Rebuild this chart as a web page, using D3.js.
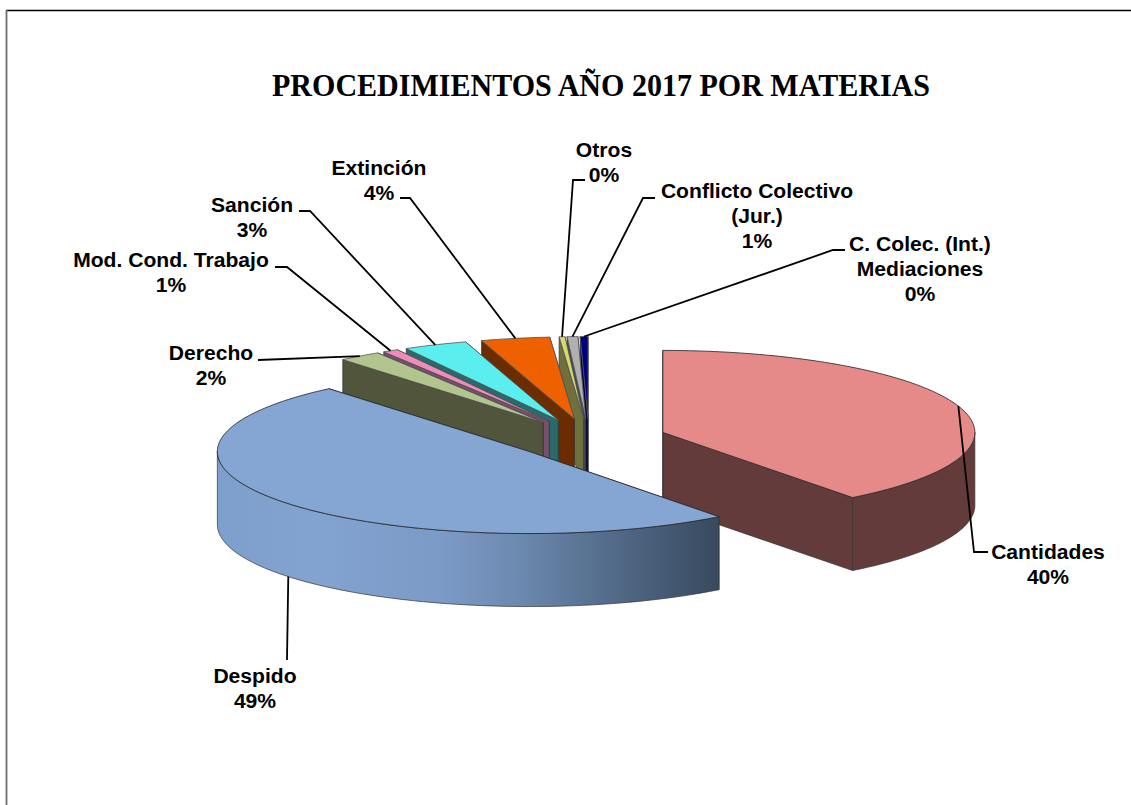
<!DOCTYPE html>
<html><head><meta charset="utf-8">
<script src="https://cdn.jsdelivr.net/npm/d3@7"></script>
<style>html,body{margin:0;padding:0;background:#fff}svg{display:block}</style>
</head><body><svg id="c" width="1131" height="805"></svg>
<script>
const titleText = "PROCEDIMIENTOS AÑO 2017 POR MATERIAS";
const categories = ["Cantidades","Despido","Derecho","Mod. Cond. Trabajo","Sanción","Extinción","Otros","Conflicto Colectivo (Jur.)","C. Colec. (Int.) Mediaciones"];
const labelLines = [["Cantidades"],["Despido"],["Derecho"],["Mod. Cond. Trabajo"],["Sanción"],["Extinción"],["Otros"],["Conflicto Colectivo","(Jur.)"],["C. Colec. (Int.)","Mediaciones"]];
const values = [39.6,49.3,2.2,0.8,3.3,3.55,0.3,0.55,0.4];
const explode = [0.25,0.245,0.25,0.25,0.25,0.25,0.25,0.25,0.25];
const topColors = ["#E58A88","#85A5D3","#B3C58E","#F08CBC","#5AEEEE","#EE6000","#D8D870","#B0B0B0","#000080"];
const wallColors = ["#633B3B","#7E9FCB","#50553C","#76506A","#2A6A6A","#6B2C00","#70703F","#4A4A4A","#000040"];

// layout, kept apart from the data
const cx=589, cy=439, R=312, RY=82, DEPTH=73, FONT=21.1, LINE=25;
const labelPos = [[1048,559],[255,683],[211,360],[171,267],[252,212],[379,175],[604,157],[757,198],[920,251]];
const elbows = [[[988,552],[974,552]],[[287,660],[287,660]],[[258,360],[258,360]],[[275,267],[287,267]],[[299,211],[310,211]],[[400,198],[410,198]],[[585,180],[573,180]],[[655,198],[643,198]],[[845,250],[833,250]]];
const anchorFrac = [.5,.496,.5,.5,.5,.5,.5,.5,.5];

const svg=d3.select("#c");
const xS=d3.scaleLinear().domain([-1,1]).range([-R,R]);
const yS=d3.scaleLinear().domain([-1,1]).range([-RY,RY]);
const pie=d3.pie().sort(null).value(d=>d)(values);
const slices=pie.map((p,i)=>{
  const mid=(p.startAngle+p.endAngle)/2;
  return {i,a0:p.startAngle,a1:p.endAngle,mid,
    ox:cx+xS(Math.sin(mid)*explode[i]), oy:cy+yS(-Math.cos(mid)*explode[i])};
});
const pt=(s,a,h=0)=>[s.ox+xS(Math.sin(a)),s.oy+yS(-Math.cos(a))+h];
const line=d3.line();
const defs=svg.append("defs");
const grad=defs.append("linearGradient").attr("id","despidoWall").attr("gradientUnits","userSpaceOnUse")
  .attr("x1",218).attr("x2",718).attr("y1",0).attr("y2",0);
[[0,"#7E9FCB"],[.2,"#83A3D0"],[.45,"#7B9AC6"],[.6,"#6C89AF"],[.8,"#516987"],[1,"#384A5E"]]
  .forEach(([o,c])=>grad.append("stop").attr("offset",o).attr("stop-color",c));

// frame
svg.append("line").attr("x1",6).attr("x2",1131).attr("y1",10.5).attr("y2",10.5).attr("stroke","#000").attr("stroke-width",1.6);
svg.append("line").attr("x1",6.5).attr("x2",6.5).attr("y1",10).attr("y2",805).attr("stroke","#6e6e6e").attr("stroke-width",1.8);

svg.append("text").attr("x",601).attr("y",96).attr("text-anchor","middle")
  .attr("font-family","'Liberation Serif',serif").attr("font-weight",700).attr("font-size",31.5)
  .attr("textLength",658).attr("lengthAdjust","spacingAndGlyphs").text(titleText);

const order=[0,8,7,6,5,4,3,2,1];
const stroke="#333";
order.forEach(i=>{
  const s=slices[i], g=svg.append("g");
  const O=[s.ox,s.oy], Ob=[s.ox,s.oy+DEPTH];
  const wall=wallColors[i];
  const quad=a=>line([O,pt(s,a),pt(s,a,DEPTH),Ob])+"Z";
  g.append("path").attr("d",quad(s.a1)).attr("fill",wall).attr("stroke",stroke).attr("stroke-width",.7);
  g.append("path").attr("d",quad(s.a0)).attr("fill",wall).attr("stroke",stroke).attr("stroke-width",.7);
  const lo=Math.max(s.a0,Math.PI/2), hi=Math.min(s.a1,3*Math.PI/2);
  if(hi>lo){
    const as=d3.range(0,61).map(k=>lo+(hi-lo)*k/60);
    const poly=as.map(a=>pt(s,a)).concat(as.slice().reverse().map(a=>pt(s,a,DEPTH)));
    g.append("path").attr("d",line(poly)+"Z").attr("fill",i===1?"url(#despidoWall)":wall)
      .attr("stroke",stroke).attr("stroke-width",.7);
  }
  const n=Math.max(4,Math.ceil((s.a1-s.a0)*60));
  const rim=d3.range(0,n+1).map(k=>pt(s,s.a0+(s.a1-s.a0)*k/n));
  g.append("path").attr("d",line([O,...rim])+"Z").attr("fill",topColors[i])
    .attr("stroke",i<2?"#222":"#555").attr("stroke-width",.8).attr("stroke-linejoin","round");
});

// leaders + labels
slices.forEach(s=>{
  const i=s.i, a=s.a0+(s.a1-s.a0)*anchorFrac[i];
  const front=-Math.cos(a)>0.5;
  const pts=[...elbows[i],pt(s,a,front?DEPTH:0)];
  svg.append("path").attr("d",line(pts)).attr("fill","none").attr("stroke","#000").attr("stroke-width",1.8);
  const pct=d3.format(".0f")(values[i])+"%";
  const t=svg.append("text").attr("text-anchor","middle").attr("font-family","'Liberation Sans',Arial,sans-serif")
    .attr("font-weight",700).attr("font-size",FONT).attr("fill","#000");
  [...labelLines[i],pct].forEach((l,k)=>t.append("tspan").attr("x",labelPos[i][0]).attr("y",labelPos[i][1]+k*LINE).text(l));
});
</script></body></html>
